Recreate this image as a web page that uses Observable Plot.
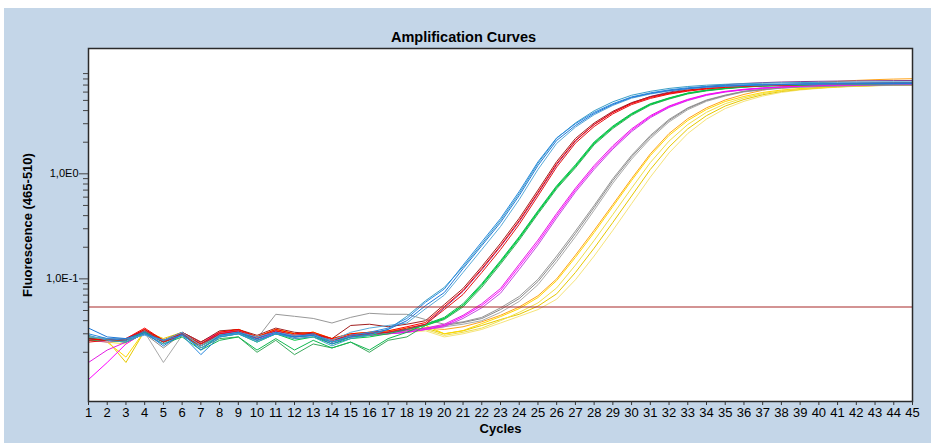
<!DOCTYPE html>
<html>
<head>
<meta charset="utf-8">
<script src="https://cdn.jsdelivr.net/npm/d3@7"></script>
<script src="https://cdn.jsdelivr.net/npm/@observablehq/plot@0.6"></script>
<style>
  html, body { margin: 0; padding: 0; background: #ffffff; }
  #panel { position: absolute; left: 4px; top: 8px; width: 927px; height: 435px; background: #c4d6e8; }
  #panel svg { position: absolute; left: 0; top: 0; }
</style>
</head>
<body>
<div id="panel"></div>
<script>
// ---- data (fluorescence per cycle, cycles 1..45) ----
const cycleLabels = ["1","2","3","4","5","6","7","8","9","10","11","12","13","14","15","16","17","18","19","20","21","22","23","24","25","26","27","28","29","30","31","32","33","34","35","36","37","38","39","40","41","42","43","44","45"];
const threshold = 0.054;
const yMinorTicks = [0.02,0.03,0.04,0.05,0.06,0.07,0.08,0.09,0.2,0.3,0.4,0.5,0.6,0.7,0.8,0.9,2,3,4,5,6,7,8,9];
const yMajorTicks = [0.1, 1];
const yMajorLabels = ["1,0E-1", "1,0E0"];

const blue1 = [.034,.028,.027,.031,.023,.030,.021,.029,.031,.027,.031,.028,.029,.024,.028,.030,.033,
  .040,.0557,.0741,.125,.207,.344,.621,1.20,2.08,2.88,3.75,4.57,5.33,5.82,6.21,6.49,6.71,6.86,6.93,7.01,7.09,7.12,7.15,7.18,7.20,7.22,7.24,7.25];
const blue2 = [.030,.027,.026,.030,.026,.029,.019,.028,.030,.026,.030,.028,.030,.025,.029,.031,.034,
  .042,.060,.080,.135,.225,.375,.68,1.30,2.20,3.00,3.85,4.65,5.40,5.90,6.30,6.60,6.80,6.95,7.05,7.10,7.15,7.20,7.25,7.28,7.30,7.32,7.34,7.35];
const blue3 = [.028,.027,.027,.029,.026,.031,.023,.029,.031,.028,.031,.029,.029,.026,.031,.034,.036,
  .038,.052,.070,.115,.190,.315,.570,1.10,1.95,2.78,3.65,4.48,5.25,5.75,6.15,6.45,6.65,6.80,6.90,6.98,7.05,7.10,7.12,7.15,7.18,7.20,7.20,7.22];
const blue4 = [.029,.026,.025,.030,.024,.029,.022,.028,.030,.025,.030,.027,.028,.023,.027,.029,.033,
  .044,.062,.083,.130,.215,.360,.650,1.26,2.18,3.05,3.98,4.85,5.60,6.10,6.50,6.78,6.98,7.12,7.22,7.30,7.35,7.40,7.42,7.45,7.47,7.48,7.50,7.50];

const red1 = [.026,.027,.027,.034,.026,.030,.024,.031,.033,.028,.033,.030,.031,.027,.030,.031,.032,.035,
  .0384,.0545,.0774,.125,.207,.359,.664,1.25,2.08,2.95,3.84,4.67,5.33,5.82,6.21,6.49,6.71,6.86,6.93,7.01,7.09,7.12,7.17,7.24,7.26,7.28,7.30];
const red2 = [.025,.026,.026,.033,.025,.029,.023,.030,.032,.027,.032,.029,.030,.026,.029,.030,.031,.034,
  .037,.051,.071,.115,.190,.330,.615,1.16,1.96,2.82,3.72,4.56,5.22,5.74,6.12,6.42,6.65,6.80,6.90,6.98,7.05,7.10,7.15,7.20,7.22,7.25,7.28];
const red3 = [.027,.026,.027,.033,.026,.031,.025,.032,.033,.029,.034,.031,.030,.027,.036,.037,.035,.037,
  .040,.057,.081,.131,.218,.378,.70,1.31,2.17,3.05,3.94,4.76,5.42,5.90,6.28,6.56,6.78,6.92,7.00,7.08,7.15,7.20,7.25,7.30,7.35,7.38,7.40];
const purple1 = [.027,.026,.027,.032,.025,.030,.024,.030,.032,.028,.032,.029,.030,.026,.029,.030,.031,.033,
  .037,.053,.076,.122,.203,.350,.650,1.22,2.05,2.95,3.85,4.72,5.45,6.00,6.42,6.78,7.05,7.25,7.38,7.48,7.55,7.60,7.64,7.67,7.70,7.72,7.74];

const green1 = [.027,.026,.026,.031,.025,.029,.023,.028,.030,.025,.030,.026,.028,.024,.027,.028,.030,.033,.036,
  .0419,.0557,.0863,.143,.242,.428,.740,1.17,1.94,2.76,3.67,4.57,5.21,5.82,6.21,6.49,6.71,6.86,6.93,7.01,7.09,7.12,7.17,7.20,7.22,7.24];
const green2 = [.026,.026,.025,.030,.024,.028,.021,.026,.028,.021,.027,.021,.026,.022,.025,.021,.027,.031,.037,
  .043,.058,.090,.149,.252,.445,.770,1.22,2.01,2.85,3.76,4.65,5.28,5.88,6.26,6.53,6.75,6.90,6.97,7.05,7.12,7.16,7.20,7.23,7.25,7.27];
const green3 = [.028,.027,.026,.032,.025,.030,.022,.027,.028,.020,.026,.019,.024,.022,.025,.020,.026,.028,.036,
  .041,.054,.083,.138,.234,.415,.720,1.14,1.89,2.70,3.60,4.50,5.15,5.76,6.16,6.45,6.68,6.83,6.90,6.98,7.05,7.08,7.12,7.15,7.17,7.19];
const green4 = [.027,.026,.026,.031,.026,.030,.024,.029,.031,.026,.030,.028,.029,.025,.028,.029,.031,.033,.037,
  .042,.056,.088,.146,.247,.436,.755,1.19,1.97,2.80,3.71,4.60,5.25,5.85,6.24,6.52,6.74,6.89,6.96,7.04,7.11,7.15,7.19,7.22,7.24,7.26];

const magenta1 = [.011,.016,.024,.031,.026,.030,.024,.030,.031,.026,.031,.028,.029,.025,.028,.029,.030,.031,.033,
  .0359,.0437,.0557,.0774,.131,.222,.40,.70,1.15,1.78,2.60,3.50,4.35,5.05,5.65,6.05,6.33,6.55,6.70,6.84,6.92,7.00,7.02,7.08,7.10,7.12];
const magenta2 = [.016,.021,.025,.030,.025,.031,.025,.031,.032,.027,.032,.029,.030,.026,.029,.030,.031,.032,.034,
  .037,.045,.058,.081,.138,.234,.42,.73,1.20,1.85,2.68,3.58,4.42,5.12,5.70,6.10,6.38,6.58,6.74,6.88,6.96,7.04,7.08,7.12,7.15,7.18];
const magenta3 = [.026,.025,.026,.031,.026,.029,.023,.029,.031,.026,.030,.028,.029,.025,.028,.029,.030,.031,.033,
  .035,.042,.053,.073,.123,.210,.38,.67,1.10,1.72,2.52,3.42,4.28,4.98,5.58,6.00,6.30,6.52,6.68,6.82,6.90,6.98,7.02,7.06,7.09,7.11];

const grey1 = [.027,.026,.025,.030,.022,.030,.024,.030,.031,.027,.031,.028,.029,.026,.029,.030,.031,.032,.034,.036,
  .0384,.0419,.0510,.0649,.0943,.156,.270,.478,.863,1.45,2.25,3.22,4.19,4.99,5.57,6.08,6.35,6.56,6.71,6.78,6.86,6.93,6.95,7.00,7.02];
const grey2 = [.026,.026,.026,.031,.016,.029,.023,.029,.030,.026,.030,.027,.028,.025,.028,.029,.030,.031,.033,.035,
  .037,.040,.048,.061,.088,.146,.252,.450,.815,1.38,2.16,3.12,4.08,4.90,5.50,6.02,6.30,6.52,6.68,6.76,6.84,6.90,6.93,6.97,7.00];
const grey3 = [.027,.027,.026,.031,.025,.031,.025,.030,.031,.027,.046,.044,.042,.038,.043,.047,.046,.046,.041,.037,
  .039,.043,.053,.068,.099,.165,.285,.500,.90,1.50,2.32,3.30,4.25,5.05,5.62,6.12,6.40,6.60,6.75,6.82,6.90,6.96,7.00,7.04,7.06];

const yellow1 = [.027,.025,.018,.032,.026,.030,.025,.031,.033,.028,.033,.030,.031,.027,.030,.031,.032,.034,.036,.030,
  .0322,.0375,.0437,.0521,.0664,.0963,.160,.276,.488,.863,1.49,2.32,3.22,4.10,4.88,5.45,5.95,6.28,6.49,6.64,6.78,6.86,6.93,6.95,6.97];
const yellow2 = [.026,.025,.024,.031,.025,.029,.024,.030,.032,.027,.032,.029,.030,.026,.029,.030,.031,.032,.033,.029,.031,.034,.040,
  .048,.059,.082,.135,.232,.41,.73,1.28,2.05,2.95,3.85,4.65,5.28,5.80,6.18,6.42,6.60,6.74,6.84,6.90,6.95,7.00];
const yellow3 = [.028,.026,.016,.032,.027,.031,.025,.031,.033,.028,.033,.030,.031,.026,.029,.030,.031,.033,.034,.030,.032,.036,.041,
  .046,.055,.072,.115,.196,.345,.615,1.10,1.80,2.68,3.58,4.42,5.10,5.66,6.08,6.36,6.56,6.72,6.84,6.92,6.98,7.02];
const yellow4 = [.027,.026,.025,.031,.026,.030,.024,.030,.032,.027,.032,.029,.030,.026,.029,.029,.030,.031,.032,.028,.030,.033,.038,
  .044,.051,.064,.098,.165,.29,.52,.93,1.58,2.42,3.32,4.18,4.90,5.50,5.96,6.28,6.50,6.68,6.80,6.90,6.98,7.05];
const orange1 = [.028,.027,.026,.033,.026,.031,.025,.031,.033,.028,.033,.030,.031,.027,.030,.031,.032,.033,.034,.033,
  .035,.039,.045,.054,.069,.100,.168,.290,.51,.90,1.55,2.42,3.35,4.25,5.05,5.70,6.25,6.70,7.05,7.35,7.58,7.75,7.88,7.98,8.05];

const seriesNames  = ["grey3","orange1","yellow4","yellow3","yellow2","yellow1","grey2","grey1","magenta3","magenta2","magenta1","green4","green3","green2","green1","purple1","red3","red2","red1","blue4","blue3","blue2","blue1"];
const seriesColors = ["#989898","#ffa31a","#f6e47a","#e6c800","#efdf4a","#ffd900","#a9a9a9","#8a8a8a","#c24fe0","#e41ee4","#ff00ff","#00dc46","#3aa95c","#12b850","#00cc40","#813d92","#a21f1f","#e81212","#ff0000","#3a9ec6","#5aaad8","#2a8ae0","#1e78d8"];
const seriesValues = [grey3,orange1,yellow4,yellow3,yellow2,yellow1,grey2,grey1,magenta3,magenta2,magenta1,green4,green3,green2,green1,purple1,red3,red2,red1,blue4,blue3,blue2,blue1];

// ---- build table ----
const rows = [];
seriesNames.forEach((name, s) => {
  seriesValues[s].forEach((v, i) => rows.push({cycle: +cycleLabels[i], value: v, id: name, color: seriesColors[s]}));
});
const cycleTicks = cycleLabels.map(Number);

const chart = Plot.plot({
  width: 927,
  height: 435,
  marginLeft: 84,
  marginRight: 19,
  marginTop: 40,
  marginBottom: 42,
  style: {background: "transparent", fontFamily: "'Liberation Sans', Arial, sans-serif", color: "#000"},
  x: {domain: [1, 45], label: null},
  y: {type: "log", domain: [0.0068, 15.6], label: null},
  color: {type: "identity"},
  marks: [
    Plot.frame({fill: "white", stroke: null}),
    Plot.line(rows, {x: "cycle", y: "value", z: "id", stroke: "color", strokeWidth: 1}),
    Plot.ruleY([threshold], {stroke: "#a82828", strokeWidth: 1.2}),
    Plot.frame({stroke: "#2a2a2a", strokeWidth: 1.5}),
    Plot.axisX({ticks: cycleTicks, tickFormat: d => cycleLabels[d - 1], tickSize: 4, tickPadding: 2, fontSize: 13, stroke: "#333", label: null}),
    Plot.axisY({ticks: yMinorTicks, tickSize: 5, tickFormat: () => "", stroke: "#444", label: null}),
    Plot.axisY({ticks: yMajorTicks, tickSize: 9, tickPadding: 1, tickFormat: d => yMajorLabels[yMajorTicks.indexOf(d)], fontSize: 11, stroke: "#444", label: null}),
    Plot.text(["Amplification Curves"], {frameAnchor: "top", dx: -37, dy: -17, fontWeight: "bold", fontSize: 14.5}),
    Plot.text(["Fluorescence (465-510)"], {frameAnchor: "left", dx: -61, rotate: -90, textAnchor: "middle", fontWeight: "bold", fontSize: 13}),
    Plot.text(["Cycles"], {frameAnchor: "bottom", dy: 31, fontWeight: "bold", fontSize: 13})
  ]
});
document.getElementById("panel").appendChild(chart);
</script>
</body>
</html>
